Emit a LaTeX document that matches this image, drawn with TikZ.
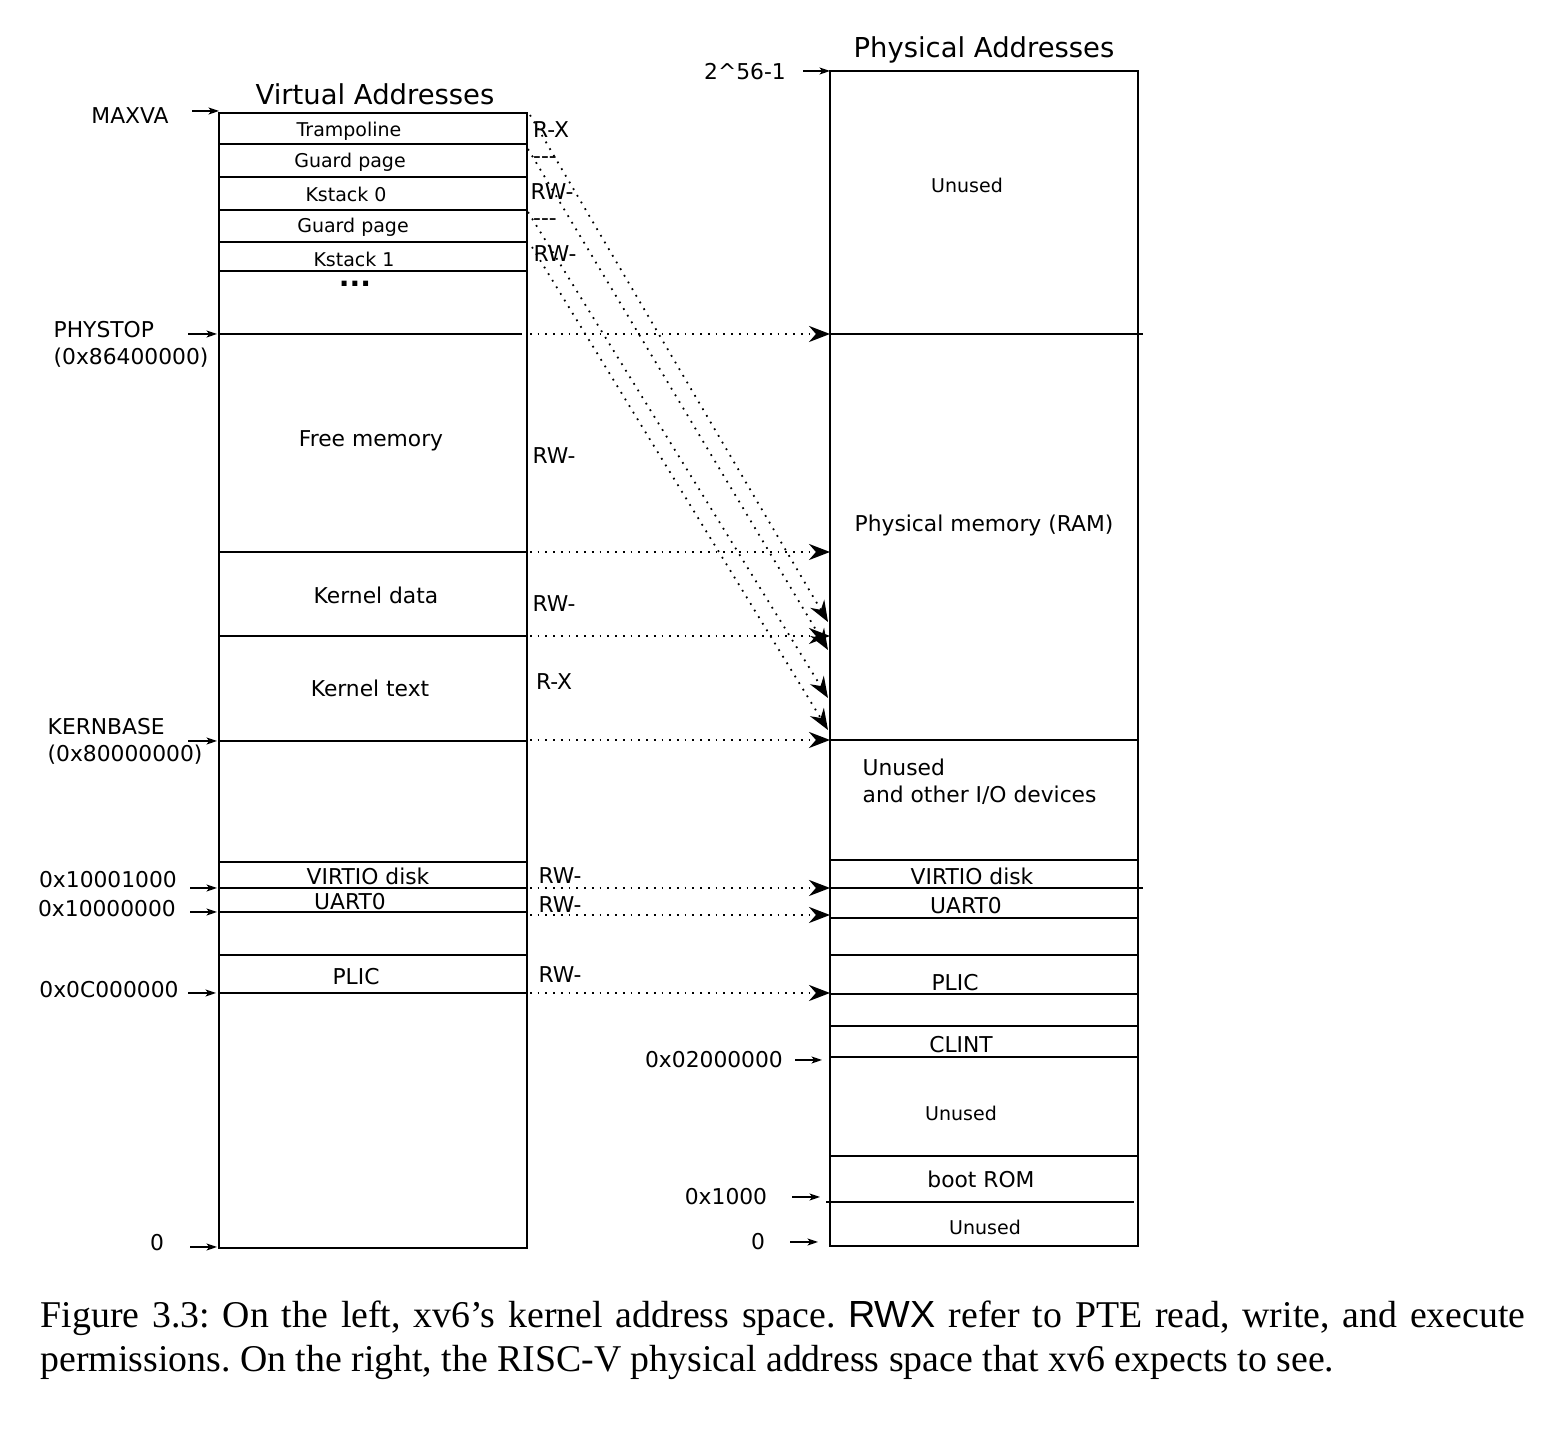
\documentclass[tikz,border=0pt]{standalone}
\usepackage{fontspec}
\setmainfont{DejaVu Sans}
\newfontfamily\capfont{Liberation Serif}
\newfontfamily\rwxfont{Liberation Sans}
\usetikzlibrary{arrows.meta}

\begin{document}
\begin{tikzpicture}[x=0.01cm, y=-0.01cm]
\useasboundingbox (0,0) rectangle (1556,1440);

% the two columns
\begin{scope}[line width=0.6pt]
    \draw (219,113) rectangle (527,1248);
    \draw (830,71) rectangle (1138,1246);
\end{scope}

\begin{scope}[line width=0.45pt]
    \foreach \y in {144,177,210,242,271,552,636,741,862,888,912,955,993}
        \draw (219,\y) -- (527,\y);
    \draw (219,334) -- (522,334);
    \foreach \y in {740,860,918,955,994,1026,1057,1156}
        \draw (830,\y) -- (1138,\y);
    \draw (830,334) -- (1143,334);
    \draw (830,888) -- (1143,888);
    \draw (826,1202) -- (1134,1202);
\end{scope}

\begin{scope}[every node/.style={font=\fontsize{7.8}{9}\selectfont}]
    \node (vtitle) at (375,94) {Virtual Addresses};
    \node (ptitle) at (984,50) {Physical Addresses};
\end{scope}

\begin{scope}[every node/.style={font=\fontsize{5.4}{6.5}\selectfont}]
    \node (tramp) at (349,131) {Trampoline};
    \node (guard0) at (350,162) {Guard page};
    \node (kstack0) at (346,194) {Kstack 0};
    \node (guard1) at (353,227) {Guard page};
    \node (kstack1) at (354,259) {Kstack 1};
    \node (unusedtop) at (967,185) {Unused};
    \node (unusedmid) at (961,1113) {Unused};
    \node (unusedlow) at (985,1227) {Unused};
\end{scope}

\begin{scope}[every node/.style={font=\fontsize{6.2}{7.7}\selectfont}]
    \node[inner sep=0] (dots) at (355,284) {\bfseries\fontsize{8}{9}\selectfont ...};
    \node (freemem) at (371,441) {Free memory};
    \node (kdata) at (376,595) {Kernel data};
    \node (ktext) at (370,688) {Kernel text};
    \node (vvirtio) at (368,876) {VIRTIO disk};
    \node (vuart) at (350,902) {UART0};
    \node (vplic) at (356,977) {PLIC};
    \node (ram) at (984,525) {Physical memory (RAM)};
    \node[align=left, anchor=west, inner sep=0] (unusedio) at (862,782) {Unused\\and other I/O devices};
    \node (pvirtio) at (972,876) {VIRTIO disk};
    \node (puart) at (966,906) {UART0};
    \node (pplic) at (955,983) {PLIC};
    \node (clint) at (961,1045) {CLINT};
    \node (bootrom) at (981,1179) {boot ROM};
    % permissions
    \node (ptramp) at (551,130) {R-X};
    \node (pguard0) at (545,160) {-{}-{}-};
    \node (pkstack0) at (552,192) {RW-};
    \node (pguard1) at (545,222) {-{}-{}-};
    \node (pkstack1) at (555,254) {RW-};
    \node (pfree) at (554,456) {RW-};
    \node (pdata) at (554,604) {RW-};
    \node (ptext) at (554,682) {R-X};
    \node (pvirt) at (560,876) {RW-};
    \node (puar) at (560,905) {RW-};
    \node (ppli) at (560,975) {RW-};
    % addresses
    \node (maxva) at (130,116) {MAXVA};
    \node[align=left, anchor=west, inner sep=0] (phystop) at (53,344) {PHYSTOP\\(0x86400000)};
    \node[align=left, anchor=west, inner sep=0] (kernbase) at (47,741) {KERNBASE\\(0x80000000)};
    \node (avirtio) at (108,880) {0x10001000};
    \node (auart) at (107,909) {0x10000000};
    \node (aplic) at (109,990) {0x0C000000};
    \node (azero) at (157,1243) {0};
    \node (atop) at (745,72) {2\textasciicircum 56-1};
    \node (aclint) at (714,1060) {0x02000000};
    \node (arom) at (726,1197) {0x1000};
    \node (pzero) at (758,1242) {0};
\end{scope}

% small address arrows
\begin{scope}[>={Stealth[length=3pt,width=2pt,inset=0.8pt]}, line width=0.4pt]
    \foreach \n/\xa/\xb/\y in {maxva/192/219/111, phystop/188/217/334,
                               kernbase/188/217/741, avirtio/190/217/888,
                               auart/190/217/912, aplic/188/216/993,
                               azero/190/217/1247, atop/803/830/71,
                               aclint/795/822/1060, arom/792/820/1197,
                               pzero/790/818/1242} {
        \coordinate (\n-a) at (\xa,\y);
        \coordinate (\n-b) at (\xb,\y);
        \draw[->] (\n-a) -- (\n-b);
    }
\end{scope}

% mappings from virtual to physical
\begin{scope}[>={Stealth[length=6pt,width=4.6pt,inset=2pt]},
              every edge/.style={draw=black, line width=0.5pt, dash pattern=on 0.5pt off 1.7pt}]
    \foreach \n/\y in {phystop/334, data/552, text/636, kernbase/740,
                       virtio/888, uart/915, plic/993} {
        \coordinate (v-\n) at (530,\y);
        \coordinate (p-\n) at (830,\y);
        \path[->] (v-\n) edge (p-\n);
    }
    \coordinate (v-tramp) at (530,115);
    \coordinate (p-tramp) at (828,622);
    \coordinate (v-guard0) at (528,149);
    \coordinate (p-guard0) at (828,650);
    \coordinate (v-guard1) at (528,212);
    \coordinate (p-guard1) at (828,698);
    \coordinate (v-kstack1) at (532,247);
    \coordinate (p-kstack1) at (828,730);
    \path[->] (v-tramp) edge (p-tramp);
    \path[->] (v-guard0) edge (p-guard0);
    \path[->] (v-guard1) edge (p-guard1);
    \path[->] (v-kstack1) edge (p-kstack1);
\end{scope}

\node[anchor=base west, inner sep=0, text width=14.84cm, align=justify,
      font=\capfont\fontsize{10.75}{12.5}\selectfont\frenchspacing] (caption) at (40,1328)
    {Figure 3.3: On the left, xv6’s kernel address space. {\rwxfont RWX} refer to PTE read, write, and execute\linebreak permissions. On the right, the RISC-V physical address space that xv6 expects to see.};
\end{tikzpicture}
\end{document}
